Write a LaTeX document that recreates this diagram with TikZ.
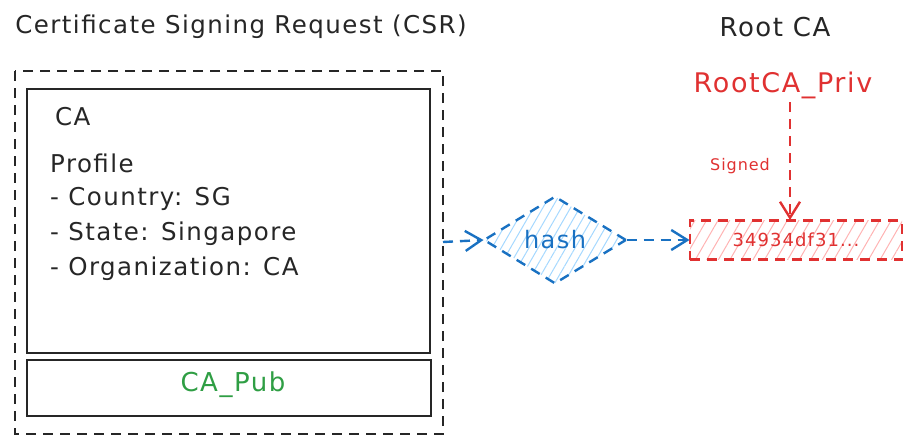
\documentclass[tikz,border=0pt]{standalone}
\usepackage{fontspec}
\setmainfont[LetterSpace=6]{DejaVu Sans}
\usetikzlibrary{shapes.geometric,arrows.meta,patterns.meta}
\definecolor{exblue}{HTML}{1971C2}
\definecolor{exred}{HTML}{E03131}
\definecolor{exgreen}{HTML}{2F9E44}
\definecolor{hatchblue}{HTML}{A5D8FF}
\definecolor{hatchred}{HTML}{FFB3B3}
\newcommand{\fsz}[1]{\fontsize{#1}{#1}\selectfont}
\begin{document}
\begin{tikzpicture}
[x=1pt,y=-1pt,
 dashbox/.style={dashed,dash pattern=on 10pt off 7pt,line width=2.4pt},
 arrowline/.style={dashbox,-{Straight Barb[length=16pt,width=20pt]}},
 body/.style={anchor=west,font=\fsz{24.5},inner sep=0pt},
 every node/.style={text=black!85}]
\useasboundingbox (0,0) rectangle (912,444);
% csr
\node [font=\fsz{24.5}] (title) at (241,27) {Certificate Signing Request (CSR)};
\draw [dashbox,black!85] (15,71) rectangle (443,434);
\coordinate (csrout) at (443,242);
\draw [line width=2.6pt,black!85] (27,89) rectangle (430,353);
\draw [line width=2.6pt,black!85] (27,360) rectangle (431,416);
\node [body] (caname) at (55,117) {CA};
\node [body] (profile) at (50,163) {Profile};
\node [body] (country) at (50,199) {- Country: SG};
\node [body] (state) at (50,234) {- State: Singapore};
\node [body] (org) at (50,269) {- Organization: CA};
\node [body,anchor=center,font=\fsz{26},text=exgreen] (pub) at (233,385) {CA\_Pub};
% root ca
\node [font=\fsz{26}] (root) at (775,27) {Root CA};
\node [font=\fsz{27},text=exred,inner sep=2pt] (priv) at (783,85) {RootCA\_Priv};
\node [draw=exred,dashbox,pattern={Lines[angle=60,distance=10pt,line width=1pt]},pattern color=hatchred,
  minimum width=212pt,minimum height=39pt,text=exred,font=\fsz{18}] (sig) at (796,240) {34934df31...};
\node [font=\fsz{16},text=exred] (signed) at (740,166) {Signed};
\coordinate (privdrop) at (790,102);
\draw [arrowline,exred] (privdrop) -- (privdrop |- sig.north);
% hash
\node [draw=exblue,dashbox,diamond,minimum width=142pt,minimum height=87pt,inner sep=0pt,
  pattern={Lines[angle=60,distance=8pt,line width=1pt]},pattern color=hatchblue,
  text=exblue,font=\fsz{24}] (hash) at (555,240) {hash};
\draw [arrowline,exblue] (csrout) -- (hash.west);
\draw [arrowline,exblue] (hash.east) -- (sig.west);
\end{tikzpicture}
\end{document}
